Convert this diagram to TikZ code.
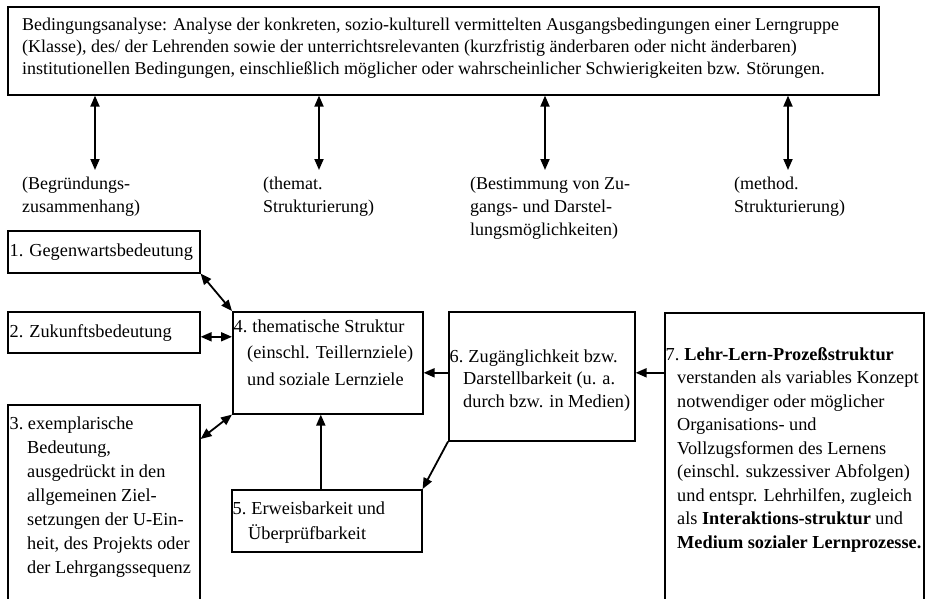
\documentclass[tikz,border=0pt]{standalone}
\usepackage{fontspec}
\setmainfont{Liberation Serif}
\usetikzlibrary{arrows.meta}
\newcommand{\mylines}[1]{\begin{tabular}[t]{@{}l@{}}#1\end{tabular}}
\newcommand{\ind}{\hspace*{13.5pt}}
\begin{document}
\begin{tikzpicture}[x=1pt,y=-1pt,
  box/.style={draw, line width=1.6pt, inner sep=0pt, anchor=north west},
  txt/.style={anchor=base west, inner sep=0pt, font=\fontsize{18.3}{23.5}\selectfont},
  conn/.style={line width=1.8pt, -{Triangle[length=11pt,width=9pt]}},
  dconn/.style={line width=1.8pt, {Triangle[length=11pt,width=9pt]}-{Triangle[length=11pt,width=9pt]}}
]
\useasboundingbox (0,0) rectangle (928,599);
\clip (0,0) rectangle (928,599);
\fill[white] (0,0) rectangle (928,599);

% top box
\node[box, minimum width=871pt, minimum height=88pt] (top) at (7,6) {};
\node[txt, font=\fontsize{18}{22}\selectfont] (ttop) at (22,31) {\mylines{Bedingungsanalyse: Analyse der konkreten, sozio-kulturell vermittelten Ausgangsbedingungen einer Lerngruppe\\
(Klasse), des/ der Lehrenden sowie der unterrichtsrelevanten (kurzfristig änderbaren oder nicht änderbaren)\\
institutionellen Bedingungen, einschließlich möglicher oder wahrscheinlicher Schwierigkeiten bzw. Störungen.}};

% arrow ends and labels
\coordinate (e1) at (95,170);
\coordinate (e2) at (319,170);
\coordinate (e3) at (545,170);
\coordinate (e4) at (788,170);
\foreach \e in {e1,e2,e3,e4} \draw[dconn] (\e |- top.south) -- (\e);

\node[txt, font=\fontsize{18}{23}\selectfont] (l1) at (22,189) {\mylines{(Begründungs-\\zusammenhang)}};
\node[txt, font=\fontsize{18}{23}\selectfont] (l2) at (263,189) {\mylines{(themat.\\Strukturierung)}};
\node[txt, font=\fontsize{18}{23}\selectfont] (l3) at (470,189) {\mylines{(Bestimmung von Zu-\\gangs- und Darstel-\\lungsmöglichkeiten)}};
\node[txt, font=\fontsize{18}{23}\selectfont] (l4) at (734,189) {\mylines{(method.\\Strukturierung)}};

% boxes
\node[box, minimum width=192pt, minimum height=42pt] (b1) at (7,230) {};
\node[box, minimum width=192pt, minimum height=41pt] (b2) at (7,311) {};
\node[box, minimum width=192pt, minimum height=220pt] (b3) at (7,404) {};
\node[box, minimum width=190pt, minimum height=102pt] (b4) at (232,311) {};
\node[box, minimum width=190pt, minimum height=62pt] (b5) at (231,489) {};
\node[box, minimum width=186pt, minimum height=129pt] (b6) at (448,311) {};
\node[box, minimum width=259pt, minimum height=300pt] (b7) at (664,312) {};

% texts
\node[txt] (t1) at (9.5,256) {\mylines{1.\hspace{6pt}Gegenwartsbedeutung}};
\node[txt] (t2) at (9.5,337) {\mylines{2.\hspace{6pt}Zukunftsbedeutung}};
\node[txt, font=\fontsize{18.3}{24}\selectfont] (t3) at (9.5,429) {\mylines{3.\hspace{4.5pt}exemplarische\\
\hspace*{17.5pt}Bedeutung,\\
\hspace*{17.5pt}ausgedrückt in den\\
\hspace*{17.5pt}allgemeinen Ziel-\\
\hspace*{17.5pt}setzungen der U-Ein-\\
\hspace*{17.5pt}heit, des Projekts oder\\
\hspace*{17.5pt}der Lehrgangssequenz}};
\node[txt, font=\fontsize{18.3}{26.5}\selectfont] (t4) at (233.5,332) {\mylines{4.\hspace{5pt}thematische Struktur\\
\ind(einschl. Teillernziele)\\
\ind und soziale Lernziele}};
\node[txt, font=\fontsize{18.3}{25}\selectfont] (t5) at (232.5,514) {\mylines{5.\hspace{5pt}Erweisbarkeit und\\
\hspace*{15.5pt}Überprüfbarkeit}};
\node[txt, font=\fontsize{18.3}{22.5}\selectfont] (t6) at (449.5,362) {\mylines{6.\hspace{5pt}Zugänglichkeit bzw.\\
\ind Darstellbarkeit (u. a.\\
\ind durch bzw. in Medien)}};
\node[txt] (t7) at (665.5,360) {\mylines{7.\hspace{5pt}\textbf{Lehr-Lern-Prozeßstruktur}\\
\hspace*{11.5pt}verstanden als variables Konzept\\
\hspace*{11.5pt}notwendiger oder möglicher\\
\hspace*{11.5pt}Organisations- und\\
\hspace*{11.5pt}Vollzugsformen des Lernens\\
\hspace*{11.5pt}(einschl. sukzessiver Abfolgen)\\
\hspace*{11.5pt}und entspr. Lehrhilfen, zugleich\\
\hspace*{11.5pt}als \textbf{Interaktions-struktur} und\\
\hspace*{11.5pt}\textbf{Medium sozialer Lernprozesse.}}};

% connectors
\draw[dconn] (b1.south east) -- (b4.north west);
\draw[dconn] ([yshift=-4.5pt]b2.east) -- ([yshift=-4.5pt]b2.east -| b4.west);
\draw[dconn] ([yshift=-35pt]b3.north east) -- (b4.south west);
\coordinate (m6) at ([yshift=3.5pt]b6.west);
\draw[conn] (m6) -- (m6 -| b4.east);
\draw[conn] (m6 -| b7.west) -- (m6 -| b6.east);
\draw[conn] ([xshift=-6pt]b5.north) -- ([xshift=-6pt]b5.north |- b4.south);
\draw[conn] (b6.south west) -- (b5.north east);
\end{tikzpicture}
\end{document}
